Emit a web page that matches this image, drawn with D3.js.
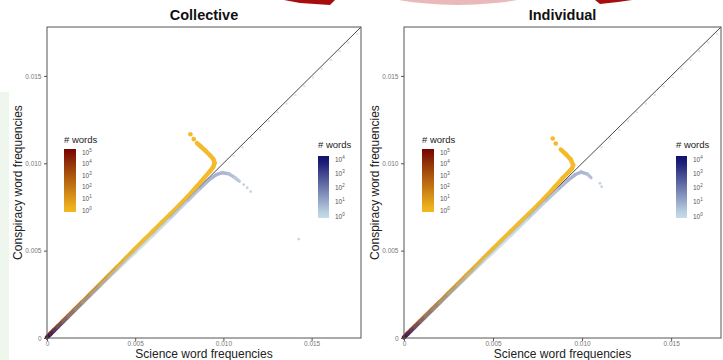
<!DOCTYPE html>
<html>
<head>
<meta charset="utf-8">
<script src="https://d3js.org/d3.v7.min.js"></script>
<style>
body { margin: 0; background: #fff; font-family: "Liberation Sans", Arial, sans-serif; }
</style>
</head>
<body>
<div id="vis"></div>
<script>
// axis ticks
var xTicks = [0, 0.005, 0.010, 0.015];
var xTickLabels = ["0", "0.005", "0.010", "0.015"];
var yTicks = [0, 0.005, 0.010, 0.015];
var yTickLabels = ["0", "0.005", "0.010", "0.015"];
var orangeLegendTicks = [1, 10, 100, 1000, 10000, 100000];
var blueLegendTicks = [1, 10, 100, 1000, 10000];
var panelTitles = ["Collective", "Individual"];

// [science freq, conspiracy freq, # words]
var collectiveOrangeTrack = [
    [0, 0.00004, 120000], [0.0002, 0.00025, 60000], [0.0004, 0.00045, 20000],
    [0.0006, 0.00065, 6000], [0.0009, 0.00095, 1500], [0.0012, 0.00125, 500],
    [0.0016, 0.00165, 180], [0.002, 0.00205, 80], [0.0025, 0.00256, 35],
    [0.003, 0.00306, 15], [0.0035, 0.00357, 7], [0.004, 0.00408, 4],
    [0.0045, 0.00459, 2], [0.005, 0.0051, 1.5], [0.0055, 0.0056, 1],
    [0.006, 0.0061, 1], [0.0065, 0.0066, 1], [0.007, 0.0071, 1],
    [0.0075, 0.0076, 1], [0.008, 0.00812, 1], [0.0085, 0.00868, 1],
    [0.0089, 0.00915, 1], [0.00922, 0.00952, 1], [0.00942, 0.00978, 1],
    [0.0095, 0.01002, 1], [0.00943, 0.01024, 1], [0.00924, 0.01046, 1],
    [0.00898, 0.01072, 1], [0.00872, 0.01096, 1], [0.0085, 0.01116, 1]
];
var collectiveOrangeDots = [[0.00832, 0.01138, 1], [0.00813, 0.01166, 1]];
var collectiveBlueTrack = [
    [0, 0.00002, 15000], [0.0002, 0.0002, 6000], [0.0004, 0.0004, 2500],
    [0.0006, 0.0006, 1000], [0.0009, 0.0009, 300], [0.0012, 0.0012, 120],
    [0.0016, 0.0016, 50], [0.002, 0.002, 25], [0.0025, 0.00249, 12],
    [0.003, 0.00298, 7], [0.0035, 0.00347, 4], [0.004, 0.00395, 3],
    [0.0045, 0.00443, 2], [0.005, 0.0049, 2], [0.006, 0.00588, 2],
    [0.007, 0.00688, 4], [0.008, 0.00788, 10], [0.0087, 0.00858, 25],
    [0.0092, 0.00906, 50], [0.0096, 0.00935, 60], [0.00994, 0.00946, 50],
    [0.0103, 0.0094, 30], [0.01065, 0.00918, 15], [0.0109, 0.00897, 8]
];
var collectiveBlueDots = [[0.01115, 0.00878, 6], [0.01135, 0.0086, 5], [0.01155, 0.00838, 5], [0.01427, 0.00566, 5]];
var collectiveFaint = [
    [0.0105, 0.0105], [0.011, 0.011], [0.0115, 0.0115], [0.012, 0.012], [0.0125, 0.0125],
    [0.013, 0.013], [0.0135, 0.0135], [0.014, 0.014], [0.0145, 0.0145], [0.015, 0.015],
    [0.0155, 0.0155], [0.016, 0.016], [0.0165, 0.0165], [0.017, 0.017], [0.0175, 0.0175]
];

var individualOrangeTrack = [
    [0, 0.00004, 100000], [0.0002, 0.00025, 50000], [0.0004, 0.00045, 15000],
    [0.0006, 0.00065, 5000], [0.0009, 0.00095, 1200], [0.0012, 0.00125, 400],
    [0.0016, 0.00165, 150], [0.002, 0.00205, 70], [0.0025, 0.00256, 30],
    [0.003, 0.00306, 12], [0.0035, 0.00357, 6], [0.004, 0.00408, 3],
    [0.0045, 0.00459, 2], [0.005, 0.0051, 1.5], [0.0055, 0.0056, 1],
    [0.006, 0.0061, 1], [0.0065, 0.0066, 1], [0.007, 0.0071, 1],
    [0.0075, 0.0076, 1], [0.008, 0.00812, 1], [0.0085, 0.00868, 1],
    [0.0089, 0.00914, 1], [0.00925, 0.0095, 1], [0.00944, 0.00972, 1],
    [0.0095, 0.0099, 1], [0.00936, 0.01022, 1], [0.00908, 0.01053, 1],
    [0.0088, 0.01079, 1]
];
var individualOrangeDots = [[0.00852, 0.01113, 1], [0.00835, 0.01142, 1]];
var individualBlueTrack = [
    [0, 0.00002, 12000], [0.0002, 0.0002, 5000], [0.0004, 0.0004, 2000],
    [0.0006, 0.0006, 800], [0.0009, 0.0009, 250], [0.0012, 0.0012, 100],
    [0.0016, 0.0016, 40], [0.002, 0.002, 20], [0.0025, 0.00249, 10],
    [0.003, 0.00298, 6], [0.0035, 0.00347, 4], [0.004, 0.00395, 3],
    [0.0045, 0.00443, 2], [0.005, 0.0049, 2], [0.006, 0.00588, 2],
    [0.007, 0.00688, 4], [0.008, 0.00788, 10], [0.0087, 0.00856, 25],
    [0.0092, 0.00902, 50], [0.0096, 0.00934, 60], [0.00995, 0.0095, 50],
    [0.0103, 0.00938, 30], [0.0105, 0.00918, 15]
];
var individualBlueDots = [[0.0110, 0.00885, 6], [0.0111, 0.00866, 5]];
var individualFaint = [
    [0.011, 0.011], [0.0115, 0.0115], [0.012, 0.012], [0.0125, 0.0125],
    [0.013, 0.013], [0.0135, 0.0135], [0.014, 0.014], [0.0145, 0.0145], [0.015, 0.015],
    [0.0155, 0.0155], [0.016, 0.016], [0.0165, 0.0165], [0.017, 0.017], [0.0175, 0.0175]
];

var width = 723, height = 360;
var plotTop = 27, plotBottom = 338;
var fullDomain = [0, 0.0178];

var svg = d3.select("#vis")
    .append("svg")
    .attr("width", width)
    .attr("height", height);

// bits of the slide behind the figure
svg.append("rect")
    .attr("x", 0).attr("y", 92).attr("width", 9).attr("height", 268)
    .attr("fill", "#eef6ee");
svg.append("ellipse")
    .attr("cx", 458).attr("cy", -80).attr("rx", 176).attr("ry", 85)
    .attr("fill", "#eab9b9");
svg.append("path")
    .attr("d", "M284,0 L335,0 L330,5 L300,3 Z")
    .attr("fill", "#a80d0d");
svg.append("path")
    .attr("d", "M595,0 L632,0 L618,2 L600,4 Z")
    .attr("fill", "#a80d0d");

var orangeColor = d3.scaleLog()
    .domain([1, 100000])
    .range(["#f3b820", "#7a0303"])
    .interpolate(d3.interpolateLab)
    .clamp(true);

var blueColor = d3.scaleLog()
    .domain([1, 10000])
    .range(["#c4dde8", "#12126f"])
    .interpolate(d3.interpolateRgb)
    .clamp(true);

var panels = [
    {
        title: panelTitles[0], left: 47, right: 361,
        orange: collectiveOrangeTrack, orangeDots: collectiveOrangeDots,
        blue: collectiveBlueTrack, blueDots: collectiveBlueDots, faint: collectiveFaint,
        legO: {x: 64, titleY: 143, y0: 149, y1: 212, lab: [210, 152]},
        legB: {x: 318, titleY: 148, y0: 156, y1: 218, lab: [216, 159]}
    },
    {
        title: panelTitles[1], left: 404, right: 721,
        orange: individualOrangeTrack, orangeDots: individualOrangeDots,
        blue: individualBlueTrack, blueDots: individualBlueDots, faint: individualFaint,
        legO: {x: 422, titleY: 143, y0: 149, y1: 212, lab: [210, 152]},
        legB: {x: 676, titleY: 148, y0: 156, y1: 218, lab: [216, 159]}
    }
];

function drawTrack(g, track, dots, color, w, r) {
    g.selectAll("line")
        .data(d3.pairs(track))
        .join("line")
        .attr("x1", function(d) { return g.x(d[0][0]); })
        .attr("y1", function(d) { return g.y(d[0][1]); })
        .attr("x2", function(d) { return g.x(d[1][0]); })
        .attr("y2", function(d) { return g.y(d[1][1]); })
        .attr("stroke", function(d) { return color(Math.sqrt(d[0][2] * d[1][2])); })
        .attr("stroke-width", w)
        .attr("stroke-linecap", "round");
    g.selectAll("circle")
        .data(dots)
        .join("circle")
        .attr("cx", function(d) { return g.x(d[0]); })
        .attr("cy", function(d) { return g.y(d[1]); })
        .attr("r", r)
        .attr("fill", function(d) { return color(d[2]); });
}

function drawLegend(parent, leg, color, ticks, barW, id) {
    var g = parent.append("g");
    var ly = d3.scaleLog()
        .domain([1, ticks[ticks.length - 1]])
        .range(leg.lab);

    var grad = svg.append("defs").append("linearGradient")
        .attr("id", id)
        .attr("x1", 0).attr("y1", 1).attr("x2", 0).attr("y2", 0);
    d3.range(11).forEach(function(k) {
        var v = ly.invert(leg.y1 - k / 10 * (leg.y1 - leg.y0));
        grad.append("stop")
            .attr("offset", k / 10)
            .attr("stop-color", color(Math.max(1, v)));
    });

    g.append("text")
        .attr("x", leg.x)
        .attr("y", leg.titleY)
        .attr("font-size", "9.5px")
        .attr("fill", "#222")
        .text("# words");

    g.append("rect")
        .attr("x", leg.x)
        .attr("y", leg.y0)
        .attr("width", barW)
        .attr("height", leg.y1 - leg.y0)
        .attr("fill", "url(#" + id + ")");

    var labels = g.selectAll("text.lab")
        .data(ticks)
        .join("text")
        .attr("class", "lab")
        .attr("x", leg.x + barW + 6)
        .attr("y", function(d) { return ly(d) + 2.5; })
        .attr("font-size", "6.5px")
        .attr("fill", "#555");
    labels.append("tspan").text("10");
    labels.append("tspan")
        .attr("dy", -2.8)
        .attr("font-size", "4.5px")
        .text(function(d) { return Math.round(Math.log10(d)); });
}

panels.forEach(function(p, i) {
    var x = d3.scaleLinear().domain(fullDomain).range([p.left, p.right]);
    var y = d3.scaleLinear().domain(fullDomain).range([plotBottom, plotTop]);
    var g = svg.append("g");
    var cx = (p.left + p.right) / 2;

    // y = x reference
    g.append("line")
        .attr("x1", x(0)).attr("y1", y(0))
        .attr("x2", x(fullDomain[1])).attr("y2", y(fullDomain[1]))
        .attr("stroke", "#333")
        .attr("stroke-width", 0.9);

    g.append("g")
        .selectAll("circle")
        .data(p.faint)
        .join("circle")
        .attr("cx", function(d) { return x(d[0]) + 1.5; })
        .attr("cy", function(d) { return y(d[1]) + 1.5; })
        .attr("r", 1.2)
        .attr("fill", "#dde3ea");

    var og = g.append("g").attr("opacity", 0.95);
    og.x = x; og.y = y;
    drawTrack(og, p.orange, p.orangeDots, orangeColor, 4.4, 2.3);

    var bg = g.append("g").attr("opacity", 0.62);
    bg.x = x; bg.y = y;
    drawTrack(bg, p.blue, p.blueDots, blueColor, 3.4, 1.4);

    // axes
    var xaxis = d3.axisBottom(x)
        .tickValues(xTicks)
        .tickFormat(function(d, j) { return xTickLabels[j]; })
        .tickSize(3)
        .tickPadding(0.5);
    var yaxis = d3.axisLeft(y)
        .tickValues(yTicks)
        .tickFormat(function(d, j) { return yTickLabels[j]; })
        .tickSize(3)
        .tickPadding(2.5);

    var gx = g.append("g")
        .attr("transform", "translate(0," + plotBottom + ")")
        .call(xaxis);
    var gy = g.append("g")
        .attr("transform", "translate(" + p.left + ",0)")
        .call(yaxis);
    [gx, gy].forEach(function(a) {
        a.select(".domain").remove();
        a.selectAll(".tick line").attr("stroke", "#555");
        a.selectAll(".tick text")
            .attr("fill", "#777")
            .attr("font-size", "6.5px")
            .attr("font-family", "Liberation Sans, Arial, sans-serif");
    });

    g.append("rect")
        .attr("x", p.left)
        .attr("y", plotTop)
        .attr("width", p.right - p.left)
        .attr("height", plotBottom - plotTop)
        .attr("fill", "none")
        .attr("stroke", "#555")
        .attr("stroke-width", 1);

    g.append("text")
        .attr("x", cx)
        .attr("y", 20)
        .attr("text-anchor", "middle")
        .attr("font-size", "14.5px")
        .attr("font-weight", "bold")
        .attr("fill", "#111")
        .text(p.title);

    g.append("text")
        .attr("x", cx)
        .attr("y", 358)
        .attr("text-anchor", "middle")
        .attr("font-size", "12px")
        .attr("fill", "#222")
        .text("Science word frequencies");

    g.append("text")
        .attr("transform", "translate(" + (p.left - 25) + "," + ((plotTop + plotBottom) / 2) + ") rotate(-90)")
        .attr("text-anchor", "middle")
        .attr("font-size", "12px")
        .attr("fill", "#222")
        .text("Conspiracy word frequencies");

    drawLegend(g, p.legO, orangeColor, orangeLegendTicks, 12, "gradO" + i);
    drawLegend(g, p.legB, blueColor, blueLegendTicks, 11, "gradB" + i);
});
</script>
</body>
</html>
